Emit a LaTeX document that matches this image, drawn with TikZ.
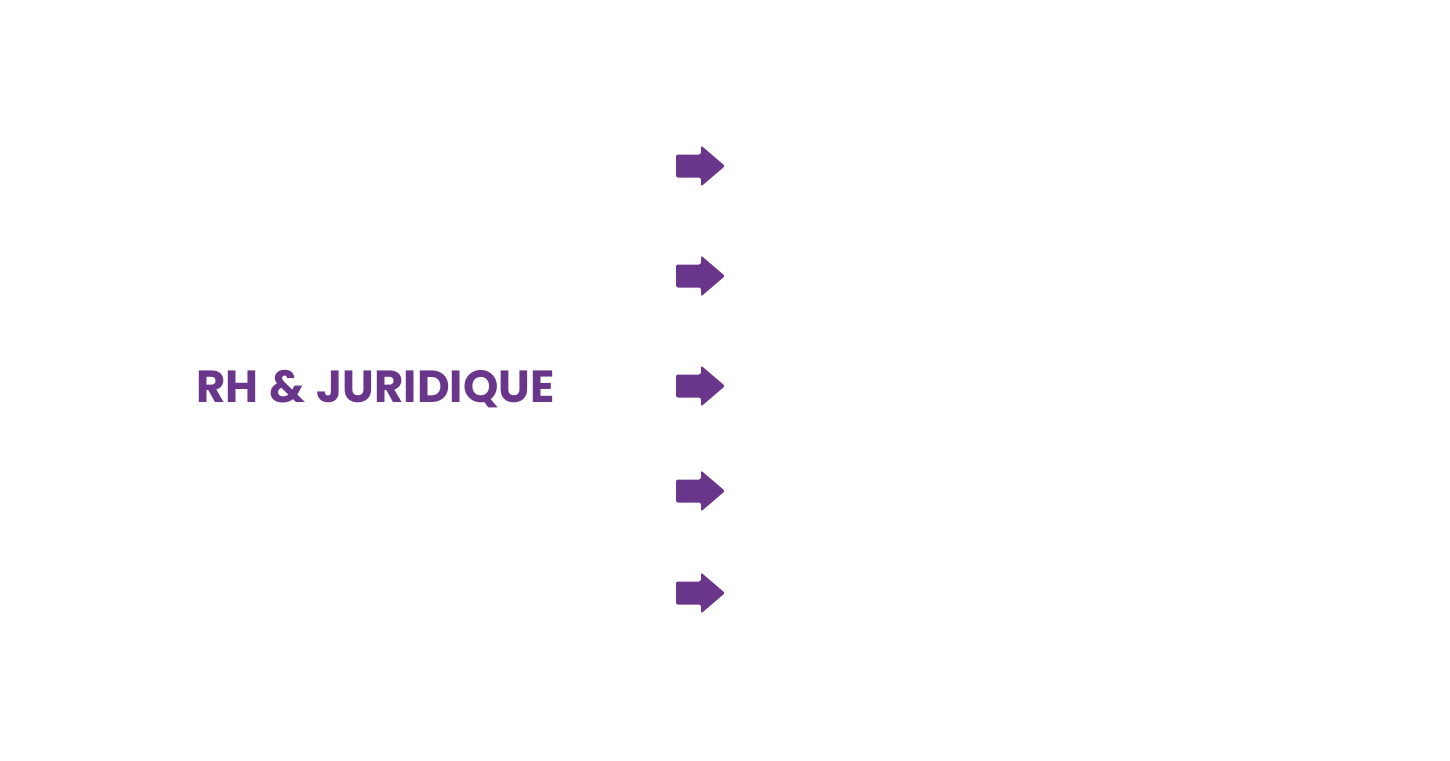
\documentclass[tikz,border=0pt]{standalone}
\usepackage{fontspec}
\setmainfont{Poppins}[UprightFont=* Bold]
\usetikzlibrary{calc}
\definecolor{rhpurple}{RGB}{106,54,140}
\tikzset{
  arrowshape/.style={fill=rhpurple, draw=none, rounded corners=2pt},
  titletext/.style={text=rhpurple, inner sep=0pt, anchor=base west, font=\fontsize{45}{45}\selectfont}
}
\begin{document}
\begin{tikzpicture}[x=1pt,y=-1pt]
\useasboundingbox (0,0) rectangle (1450,760);
\fill[white] (0,0) rectangle (1450,760);
\node[titletext] (title) at (196,402) {RH\hspace{0.25em}\&\hspace{0.25em}JURIDIQUE};
\foreach \n/\yy in {a1/166,a2/276,a3/386,a4/491,a5/593}{
  \coordinate (\n) at (676,\yy);
  \fill[arrowshape] ($(\n)+(0,-11.5)$) -- ++(25,0) -- ++(0,-9) -- ($(\n)+(49,0)$) -- ($(\n)+(25,20.5)$) -- ++(0,-9) -- ($(\n)+(0,11.5)$) -- cycle;
}
\end{tikzpicture}
\end{document}
